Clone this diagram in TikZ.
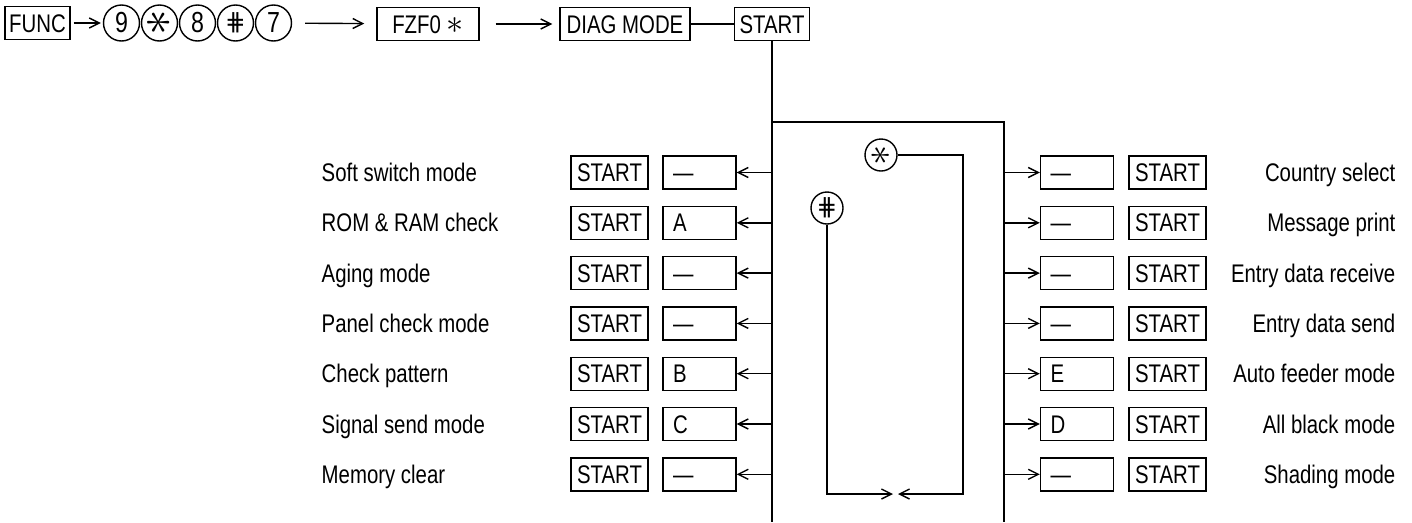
\documentclass[tikz,border=0pt]{standalone}
\usepackage{fontspec}
\setmainfont[FakeStretch=0.8]{Liberation Sans}
\newfontfamily\symfont{DejaVu Sans}
\usetikzlibrary{positioning,arrows.meta,shapes.geometric}

\begin{document}
\begin{tikzpicture}[font=\fontsize{14.5}{17}\selectfont, line width=0.8pt,
  key/.style={draw, rectangle, minimum height=0.66cm, inner xsep=0.1cm,
    text height=10.4pt, text depth=0pt},
  code/.style={key, minimum width=1.46cm, text width=1.06cm, align=left,
    inner xsep=0.2cm},
  dig/.style={draw, circle, minimum size=0.72cm, inner sep=0pt,
    font=\fontsize{16.5}{19}\selectfont},
  op/.style={draw, circle, minimum size=0.64cm, inner sep=0pt},
  hsym/.style={font=\symfont\fontsize{14}{14}\selectfont},
  lbl/.style={inner sep=0pt, text height=10.4pt, text depth=0pt},
  arr/.style={-{Straight Barb[length=0.2cm, width=0.2cm]}}]

\useasboundingbox (0,0) rectangle (28.24,-10.44);

\node[key, minimum width=1.3cm, inner xsep=0pt] (func) at (0.75,-0.46) {FUNC};
\node[dig] (k9) at (2.43,-0.46) {9};
\node[dig] (kast) at (3.19,-0.46) {\rotatebox{90}{\scalebox{1.7}{$\ast$}}};
\node[dig] (k8) at (3.95,-0.46) {8};
\node[dig, hsym] (khash) at (4.71,-0.46) {⋕};
\node[dig] (k7) at (5.47,-0.46) {7};
\node[key, minimum width=2.04cm] (fzf) at (8.56,-0.48)
  {FZF0 \scalebox{1.35}{$\ast$}};
\node[key, minimum width=2.6cm] (diag) at (12.5,-0.48) {DIAG MODE};
\node[key, minimum width=1.46cm] (go) at (15.44,-0.48) {START};

\draw[arr, shorten <=0.06cm, shorten >=0.04cm] (func) -- (k9);
\draw[arr, shorten <=0.26cm, shorten >=0.24cm] (k7) -- (fzf);
\draw[arr, shorten <=0.32cm, shorten >=0.14cm] (fzf) -- (diag);
\draw (diag) -- (go);

\coordinate (fbl) at (15.44,-10.44);
\coordinate (ftr) at (20.08,-2.44);
\coordinate (fbr) at (20.08,-10.44);
\draw (go.south) -- (fbl);
\draw (go.south |- ftr) -- (ftr) -- (fbr);

\node[op] (star) at (17.62,-3.10) {\rotatebox{90}{\scalebox{1.6}{$\ast$}}};
\node[op, hsym] (hash) at (16.54,-4.16) {⋕};
\coordinate (lbr) at (19.26,-9.88);
\coordinate (tipa) at (17.86,-9.88);
\coordinate (tipb) at (17.96,-9.88);
\draw[arr] (star) -| (lbr) -- (tipb);
\draw[arr] (hash) |- (tipa);

\foreach \lab/\cd [count=\i from 0] in {Soft switch mode/—,
    ROM \& RAM check/A, Aging mode/—, Panel check mode/—,
    Check pattern/B, Signal send mode/C, Memory clear/—} {
  \node[lbl, anchor=west] (ll\i) at (6.42,{-3.45-1.006*\i}) {\lab};
  \node[key, minimum width=1.54cm] (ls\i) at (12.19,{-3.45-1.006*\i}) {START};
  \node[code] (lc\i) at (13.99,{-3.45-1.006*\i}) {\cd};
  \coordinate (lt\i) at (15.44,{-3.45-1.006*\i});
  \draw[arr] (lt\i) -- (lc\i);
}

\foreach \lab/\cd [count=\i from 0] in {Country select/—,
    Message print/—, Entry data receive/—, Entry data send/—,
    Auto feeder mode/E, All black mode/D, Shading mode/—} {
  \coordinate (rt\i) at (20.08,{-3.45-1.006*\i});
  \node[code] (rc\i) at (21.54,{-3.45-1.006*\i}) {\cd};
  \node[key, minimum width=1.54cm] (rs\i) at (23.35,{-3.45-1.006*\i}) {START};
  \node[lbl, anchor=east] (rl\i) at (27.92,{-3.45-1.006*\i}) {\lab};
  \draw[arr] (rt\i) -- (rc\i);
}
\end{tikzpicture}
\end{document}
